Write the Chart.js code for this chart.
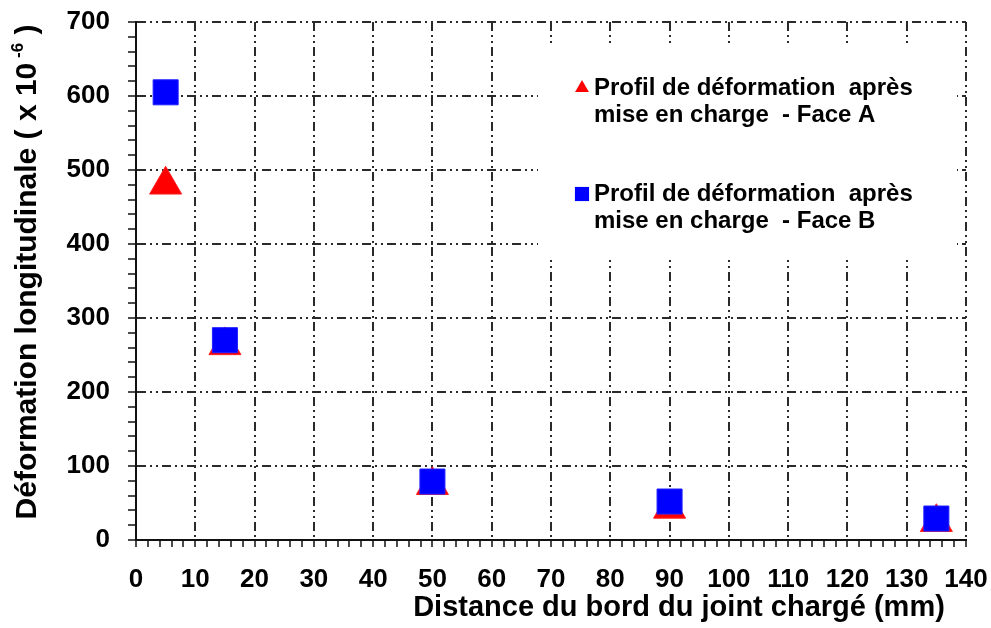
<!DOCTYPE html>
<html>
<head>
<meta charset="utf-8">
<script src="https://cdn.jsdelivr.net/npm/chart.js@4.4.0/dist/chart.umd.min.js"></script>
<style>
  html, body { margin: 0; padding: 0; background: #fff; }
  #wrap { width: 991px; height: 628px; }
</style>
</head>
<body>
<div id="wrap"><canvas id="deformChart" width="991" height="628"></canvas></div>
<script>
// distance from loaded joint edge (mm) and longitudinal strain (x 10^-6)
const distances = [5, 15, 50, 90, 135];
const faceA = [480, 263, 74, 42, 24];
const faceB = [605, 270, 79, 52, 29];
const labelA = ['Profil de déformation  après', 'mise en charge  - Face A'];
const labelB = ['Profil de déformation  après', 'mise en charge  - Face B'];
const xTitle = 'Distance du bord du joint chargé (mm)';
const yTitle = ['Déformation longitudinale ( x 10', '-6', ' )'];

const FONT = "'Liberation Sans', Arial, sans-serif";
const gridDash = [9, 4, 2, 4, 2, 4];

function toPoints(xs, ys) {
  return xs.map((x, i) => ({ x: x, y: ys[i] }));
}

// keep the plot box fixed: labels may spill into the page margins
function noMargins(scale) {
  scale.paddingTop = 0;
  scale.paddingBottom = 0;
  scale.paddingLeft = 0;
  scale.paddingRight = 0;
}

// legend sits inside the plot on a white box, titles drawn by hand
const boxLegend = {
  id: 'boxLegend',
  afterDatasetsDraw(chart) {
    const { ctx, chartArea } = chart;
    const left = chartArea.left + 402, top = chartArea.top + 25;
    const right = chartArea.right - 9, bottom = chartArea.top + 235;
    ctx.save();
    ctx.fillStyle = '#fff';
    ctx.fillRect(left, top, right - left, bottom - top);
    ctx.font = 'bold 24px ' + FONT;
    ctx.textBaseline = 'alphabetic';
    const rows = [top + 48, top + 154];
    chart.data.datasets.forEach((ds, i) => {
      const y = rows[i];
      ctx.fillStyle = ds.backgroundColor;
      Chart.helpers.drawPoint(ctx, {
        pointStyle: ds.pointStyle,
        radius: ds.pointStyle === 'triangle' ? 8 : 10,
        rotation: 0,
        borderWidth: 0
      }, left + 44, y - 7);
      ctx.fillStyle = '#000';
      ds.label.forEach((line, j) => {
        ctx.fillText(line, left + 56, y + j * 27);
      });
    });
    ctx.restore();
  },
  afterDraw(chart) {
    const { ctx, chartArea } = chart;
    ctx.save();
    ctx.fillStyle = '#000';
    ctx.textBaseline = 'middle';

    // x axis title, sitting right of centre
    ctx.font = 'bold 29px ' + FONT;
    ctx.textAlign = 'center';
    ctx.fillText(xTitle, chartArea.left + 543, 608);

    // y axis title with superscript exponent
    ctx.textAlign = 'left';
    const big = 'bold 30px ' + FONT, small = 'bold 17px ' + FONT;
    ctx.font = big;
    const w1 = ctx.measureText(yTitle[0]).width;
    const w3 = ctx.measureText(yTitle[2]).width;
    ctx.font = small;
    const w2 = ctx.measureText(' ' + yTitle[1]).width;
    const total = w1 + w2 + w3;
    ctx.translate(28, chartArea.top + 250);
    ctx.rotate(-Math.PI / 2);
    let x = -total / 2;
    ctx.font = big;
    ctx.fillText(yTitle[0], x, 0);
    x += w1;
    ctx.font = small;
    ctx.fillText(' ' + yTitle[1], x, -10);
    x += w2;
    ctx.font = big;
    ctx.fillText(yTitle[2], x, 0);
    ctx.restore();
  }
};

new Chart(document.getElementById('deformChart'), {
  type: 'scatter',
  data: {
    datasets: [
      {
        label: labelA,
        data: toPoints(distances, faceA),
        pointStyle: 'triangle',
        pointRadius: 18.5,
        backgroundColor: '#ff0000',
        borderColor: '#ff2020',
        borderWidth: 1,
        order: 1
      },
      {
        label: labelB,
        data: toPoints(distances, faceB),
        pointStyle: 'rect',
        pointRadius: 17.7,
        backgroundColor: '#0000ff',
        borderColor: '#2020ff',
        borderWidth: 1,
        order: 0
      }
    ]
  },
  options: {
    responsive: false,
    animation: false,
    layout: { padding: { top: 22, right: 25, bottom: 0, left: 0 } },
    plugins: {
      legend: { display: false },
      tooltip: { enabled: false }
    },
    scales: {
      x: {
        type: 'linear',
        min: 0,
        max: 140,
        afterFit(scale) { scale.height = 88; noMargins(scale); },
        ticks: {
          stepSize: 2,
          autoSkip: false,
          maxRotation: 0,
          padding: 17,
          color: '#000',
          font: { family: FONT, size: 26, weight: 'bold' },
          callback: v => (v % 10 === 0 ? v : '')
        },
        grid: {
          color: c => (c.tick && c.tick.value % 10 === 0 ? '#2a2a2a' : 'rgba(0,0,0,0)'),
          lineWidth: 2,
          tickColor: '#111',
          tickWidth: 1.5,
          tickLength: 7
        },
        border: { display: true, color: '#111', width: 2, dash: gridDash }
      },
      y: {
        type: 'linear',
        min: 0,
        max: 700,
        afterFit(scale) { scale.width = 136; noMargins(scale); },
        ticks: {
          stepSize: 20,
          autoSkip: false,
          padding: 18,
          color: '#000',
          font: { family: FONT, size: 26, weight: 'bold' },
          callback: v => (v % 100 === 0 ? v : '')
        },
        grid: {
          color: c => (c.tick && c.tick.value % 100 === 0 ? '#2a2a2a' : 'rgba(0,0,0,0)'),
          lineWidth: 2,
          tickColor: '#111',
          tickWidth: 1.5,
          tickLength: 8
        },
        border: { display: true, color: '#111', width: 2, dash: gridDash }
      }
    }
  },
  plugins: [boxLegend]
});
</script>
</body>
</html>
